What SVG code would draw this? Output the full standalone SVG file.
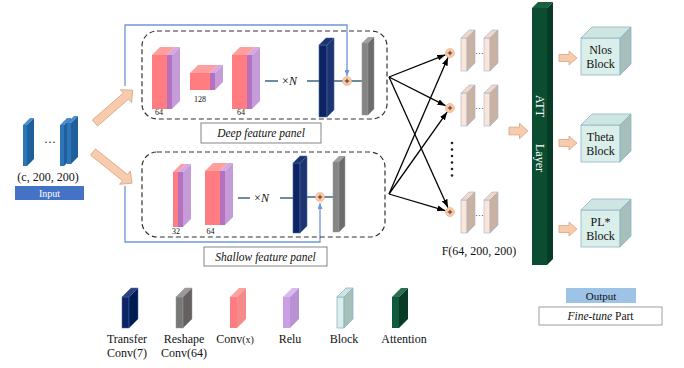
<svg xmlns="http://www.w3.org/2000/svg" xmlns:xlink="http://www.w3.org/1999/xlink" width="684" height="368" viewBox="0 0 684 368">
<style>
text{font-family:"Liberation Serif","Times New Roman",serif;fill:#111}
.lbl{font-size:12px}
.sm{font-size:8px}
.it{font-style:italic}
.panel{fill:none;stroke:#333;stroke-width:1.2;stroke-dasharray:5,3}
.lbox{fill:#fff;stroke:#666;stroke-width:0.8}
.pk{fill:#ff7c80}.pkt{fill:#ff9e9e}
.pu{fill:#b571bd}.put{fill:#d4a8e4}.pus{fill:#c59bd8}
.nv{fill:#0c2463;stroke:#4a6aa8;stroke-width:0.6}.nvs{fill:#1d3470;stroke:#4a6aa8;stroke-width:0.6}
.gr{fill:#858585;stroke:#999;stroke-width:0.5}.grs{fill:#6c6c6c;stroke:#999;stroke-width:0.5}.grt{fill:#a0a0a0}
.ib{fill:#2e75b6}.ibs{fill:#1f5f9c}.ibt{fill:#4a8ccc}
.fp{fill:#fce4d6;stroke:#9fb4cc;stroke-width:0.6}.fps{fill:#c9b2a2;stroke:#9fb4cc;stroke-width:0.6}.fpt{fill:#f3d7c6;stroke:#9fb4cc;stroke-width:0.6}
.cb{fill:#daeeea;stroke:#8fb3c8;stroke-width:0.8}.cbs{fill:#a6bfbb;stroke:#8fb3c8;stroke-width:0.8}.cbt{fill:#cde6e2;stroke:#8fb3c8;stroke-width:0.8}
.at{fill:#0b4d30}.ats{fill:#083b25}.att{fill:#1a5e40}
.pa{fill:#f8cbad;stroke:#d4a688;stroke-width:0.8}
.ln{stroke:#3d6580;stroke-width:1.5;fill:none}
.fb{stroke:#6f96d8;stroke-width:1.3;fill:none}
.bk{stroke:#000;stroke-width:1.3;fill:none}
</style>
<defs>
<marker id="ah" markerWidth="8" markerHeight="6" refX="8" refY="3" orient="auto" markerUnits="userSpaceOnUse"><path d="M0,0 L8,3 L0,6 z" fill="#000"/></marker>
<marker id="bh" markerWidth="6" markerHeight="5" refX="6" refY="2.5" orient="auto" markerUnits="userSpaceOnUse"><path d="M0,0 L6,2.5 L0,5 z" fill="#6f96d8"/></marker>
<g id="convTall">
<rect class="pk" x="0" y="8" width="15" height="54"/>
<polygon class="pkt" points="0,8 8,0 23,0 15,8"/>
<rect class="pu" x="15" y="8" width="5" height="54"/>
<polygon class="put" points="15,8 23,0 28,0 20,8"/>
<polygon class="pus" points="20,8 28,0 28,54 20,62"/>
</g>
<g id="fplate">
<rect class="fp" x="0" y="8" width="6" height="33"/>
<polygon class="fpt" points="0,8 8,0 14,0 6,8"/>
<polygon class="fps" points="6,8 14,0 14,33 6,41"/>
</g>
<g id="cube">
<rect class="cb" x="0" y="11" width="39" height="37"/>
<polygon class="cbt" points="0,11 11,0 50,0 39,11"/>
<polygon class="cbs" points="39,11 50,0 50,37 39,48"/>
</g>
<path id="parrow" class="pa" d="M0,-3.5 H10 V-7 L18,0 L10,7 V3.5 H0 Z"/>
<path id="bigarrow" class="pa" d="M0,-4 H41 V-8.5 L50,0 L41,8.5 V4 H0 Z"/>
<g id="plus">
<circle r="4.5" fill="#f8cbad" stroke="#eaa882" stroke-width="0.6"/>
<path d="M-2.2,0 H2.2 M0,-2.2 V2.2" stroke="#5a2a10" stroke-width="1"/>
</g>
</defs>

<g id="connectors">
<use href="#bigarrow" transform="translate(95,123) rotate(-41)"/>
<use href="#bigarrow" transform="translate(93,152) rotate(38.7)"/>
<path class="fb" d="M125,86 V25 H347 V76" marker-end="url(#bh)"/>
<path class="fb" d="M125,186 V242 H320 V203" marker-end="url(#bh)"/>
<path class="ln" d="M265,81 H278 M307,81 H319 M334,81 H362"/>
<path class="ln" d="M238,198 H250 M280,198 H293 M307,197 H333"/>
<line class="bk" x1="389" y1="77" x2="445.3" y2="54.8" marker-end="url(#ah)"/>
<line class="bk" x1="389" y1="77" x2="445.5" y2="105.7" marker-end="url(#ah)"/>
<line class="bk" x1="389" y1="77" x2="447.9" y2="207.4" marker-end="url(#ah)"/>
<line class="bk" x1="389" y1="194" x2="448" y2="57.6" marker-end="url(#ah)"/>
<line class="bk" x1="389" y1="194" x2="447.1" y2="112.1" marker-end="url(#ah)"/>
<line class="bk" x1="389" y1="194" x2="445.2" y2="210.6" marker-end="url(#ah)"/>
<use href="#parrow" transform="translate(509,131) scale(1.05,1.1)"/>
<use href="#parrow" x="559" y="58"/>
<use href="#parrow" x="559" y="143"/>
<use href="#parrow" x="559" y="229"/>
</g>

<g id="input">
<rect class="ib" x="23" y="125" width="4" height="41"/>
<polygon class="ibt" points="23,125 30,118 34,118 27,125"/>
<polygon class="ibs" points="27,125 34,118 34,159 27,166"/>
<text x="50" y="146" class="lbl" text-anchor="middle">···</text>
<rect class="ib" x="60" y="125" width="4" height="41"/>
<polygon class="ibt" points="60,125 67,118 71,118 64,125"/>
<polygon class="ibs" points="64,125 71,118 71,159 64,166"/>
<rect class="ib" x="67" y="123" width="4" height="41"/>
<polygon class="ibt" points="67,123 74,116 78,116 71,123"/>
<polygon class="ibs" points="71,123 78,116 78,157 71,164"/>
<text x="48" y="181" class="lbl" text-anchor="middle">(c, 200, 200)</text>
<rect x="15" y="186" width="69" height="14" fill="#4472c4"/>
<text x="49.5" y="197" font-size="10" text-anchor="middle" style="fill:#fff">Input</text>
</g>

<g id="deep-panel">
<rect class="panel" x="142" y="31" width="245" height="88" rx="15"/>
<use href="#convTall" x="152" y="47"/>
<text x="159" y="115" class="sm" text-anchor="middle">64</text>
<rect class="pk" x="190" y="73" width="20" height="17"/>
<polygon class="pkt" points="190,73 198,65 218,65 210,73"/>
<rect class="pu" x="210" y="73" width="5" height="17"/>
<polygon class="put" points="210,73 218,65 223,65 215,73"/>
<polygon class="pus" points="215,73 223,65 223,82 215,90"/>
<text x="200" y="102" class="sm" text-anchor="middle">128</text>
<use href="#convTall" x="232" y="47"/>
<text x="241" y="115" class="sm" text-anchor="middle">64</text>
<text x="289.5" y="85" class="lbl" text-anchor="middle">×<tspan class="it">N</tspan></text>
<rect class="nv" x="319" y="45" width="8" height="72"/>
<polygon class="nvs" points="319,45 326,38 334,38 327,45"/>
<polygon class="nvs" points="327,45 334,38 334,110 327,117"/>
<use href="#plus" x="347" y="81"/>
<rect class="gr" x="362" y="43" width="6" height="72"/>
<polygon class="grt" points="362,43 368,37 374,37 368,43"/>
<polygon class="grs" points="368,43 374,37 374,109 368,115"/>
</g>
<g id="deep-label">
<rect class="lbox" x="201" y="123" width="120" height="20"/>
<text x="261" y="137" font-size="11.5" class="it" text-anchor="middle">Deep feature panel</text>
</g>

<g id="shallow-panel">
<rect class="panel" x="142" y="152" width="243" height="85" rx="15"/>
<rect class="pk" x="173" y="172" width="5" height="55"/>
<polygon class="pkt" points="173,172 181,164 186,164 178,172"/>
<rect class="pu" x="178" y="172" width="5" height="55"/>
<polygon class="put" points="178,172 186,164 191,164 183,172"/>
<polygon class="pus" points="183,172 191,164 191,219 183,227"/>
<text x="176" y="234" class="sm" text-anchor="middle">32</text>
<use href="#convTall" x="205" y="163"/>
<text x="210.5" y="234" class="sm" text-anchor="middle">64</text>
<text x="261.5" y="202" class="lbl" text-anchor="middle">×<tspan class="it">N</tspan></text>
<rect class="nv" x="293" y="163" width="7" height="70"/>
<polygon class="nvs" points="293,163 300,156 307,156 300,163"/>
<polygon class="nvs" points="300,163 307,156 307,226 300,233"/>
<use href="#plus" x="320" y="197"/>
<rect class="gr" x="333" y="162" width="6" height="70"/>
<polygon class="grt" points="333,162 339,156 345,156 339,162"/>
<polygon class="grs" points="339,162 345,156 345,226 339,232"/>
</g>
<g id="shallow-label">
<rect class="lbox" x="204" y="247" width="123" height="19"/>
<text x="265.5" y="261" font-size="11.5" class="it" text-anchor="middle">Shallow feature panel</text>
</g>

<g id="features">
<use href="#plus" x="450" y="53"/>
<use href="#plus" x="450" y="108"/>
<use href="#plus" x="450" y="212"/>
<use href="#fplate" x="461" y="30"/>
<use href="#fplate" x="484" y="30"/>
<text x="479.5" y="56" font-size="9" text-anchor="middle">···</text>
<use href="#fplate" x="461" y="85"/>
<use href="#fplate" x="484" y="85"/>
<text x="479.5" y="111" font-size="9" text-anchor="middle">···</text>
<use href="#fplate" x="461" y="192"/>
<use href="#fplate" x="484" y="192"/>
<text x="479.5" y="218" font-size="9" text-anchor="middle">···</text>
<g fill="#222">
<circle cx="452" cy="143" r="1.3"/><circle cx="452" cy="149.5" r="1.3"/><circle cx="452" cy="156" r="1.3"/>
<circle cx="452" cy="162.5" r="1.3"/><circle cx="452" cy="169" r="1.3"/><circle cx="452" cy="175.5" r="1.3"/>
</g>
<text x="479" y="255" class="lbl" text-anchor="middle">F(64, 200, 200)</text>
</g>

<g id="att-layer">
<rect class="at" x="532" y="8" width="15" height="257"/>
<polygon class="att" points="532,8 538,2 553,2 547,8"/>
<polygon class="ats" points="547,8 553,2 553,259 547,265"/>
<text transform="translate(536,106) rotate(90)" class="lbl" text-anchor="middle" style="fill:#fff">ATT</text>
<text transform="translate(536,158) rotate(90)" class="lbl" text-anchor="middle" style="fill:#fff">Layer</text>
</g>

<g id="nlos-block">
<use href="#cube" x="581" y="27"/>
<text x="600.5" y="54" class="lbl" text-anchor="middle">Nlos</text>
<text x="600.5" y="68" class="lbl" text-anchor="middle">Block</text>
</g>
<g id="theta-block">
<use href="#cube" x="581" y="114"/>
<text x="600.5" y="141" class="lbl" text-anchor="middle">Theta</text>
<text x="600.5" y="155" class="lbl" text-anchor="middle">Block</text>
</g>
<g id="pl-block">
<use href="#cube" x="581" y="199"/>
<text x="600.5" y="226" class="lbl" text-anchor="middle">PL*</text>
<text x="600.5" y="240" class="lbl" text-anchor="middle">Block</text>
</g>

<g id="legend">
<g>
<rect x="122" y="297" width="7" height="31" fill="#0c2463" stroke="#4a6aa8" stroke-width="0.5"/>
<polygon points="122,297 131,288 138,288 129,297" fill="#2a4080" stroke="#4a6aa8" stroke-width="0.5"/>
<polygon points="129,297 138,288 138,319 129,328" fill="#001a52" stroke="#4a6aa8" stroke-width="0.5"/>
<text x="127" y="343" class="lbl" text-anchor="middle">Transfer</text>
<text x="127" y="357" class="lbl" text-anchor="middle">Conv(7)</text>
</g>
<g>
<rect x="176" y="297" width="7" height="31" fill="#787878" stroke="#999" stroke-width="0.5"/>
<polygon points="176,297 185,288 192,288 183,297" fill="#9a9a9a" stroke="#999" stroke-width="0.5"/>
<polygon points="183,297 192,288 192,319 183,328" fill="#646060" stroke="#999" stroke-width="0.5"/>
<text x="184" y="343" class="lbl" text-anchor="middle">Reshape</text>
<text x="184" y="357" class="lbl" text-anchor="middle">Conv(64)</text>
</g>
<g>
<rect x="230" y="297" width="7" height="31" fill="#ff7c80"/>
<polygon points="230,297 239,288 246,288 237,297" fill="#ffa0a0"/>
<polygon points="237,297 246,288 246,319 237,328" fill="#f48a8a"/>
<text x="235" y="343" class="lbl" text-anchor="middle">Conv<tspan font-size="10">(x)</tspan></text>
</g>
<g>
<rect x="283" y="297" width="7" height="31" fill="#c9a0e6"/>
<polygon points="283,297 292,288 299,288 290,297" fill="#dcb8f0"/>
<polygon points="290,297 299,288 299,319 290,328" fill="#b892d0"/>
<text x="290" y="343" class="lbl" text-anchor="middle">Relu</text>
</g>
<g>
<rect class="cb" x="337" y="297" width="7" height="31"/>
<polygon class="cbt" points="337,297 346,288 353,288 344,297"/>
<polygon class="cbs" points="344,297 353,288 353,319 344,328"/>
<text x="344" y="343" class="lbl" text-anchor="middle">Block</text>
</g>
<g>
<rect x="392" y="297" width="7" height="31" fill="#0e5a3a"/>
<polygon points="392,297 401,288 408,288 399,297" fill="#2a7050"/>
<polygon points="399,297 408,288 408,319 399,328" fill="#083b25"/>
<text x="404" y="343" class="lbl" text-anchor="middle">Attention</text>
</g>
</g>

<g id="output-key">
<rect x="566" y="288" width="70" height="15" fill="#9dc3e6"/>
<text x="601" y="300" font-size="11" text-anchor="middle">Output</text>
</g>
<g id="finetune-key">
<rect x="539" y="307" width="123" height="18" fill="#fff" stroke="#888" stroke-width="0.8"/>
<text x="600.5" y="320" font-size="11.5" text-anchor="middle"><tspan class="it">Fine-tune</tspan> Part</text>
</g>
</svg>
